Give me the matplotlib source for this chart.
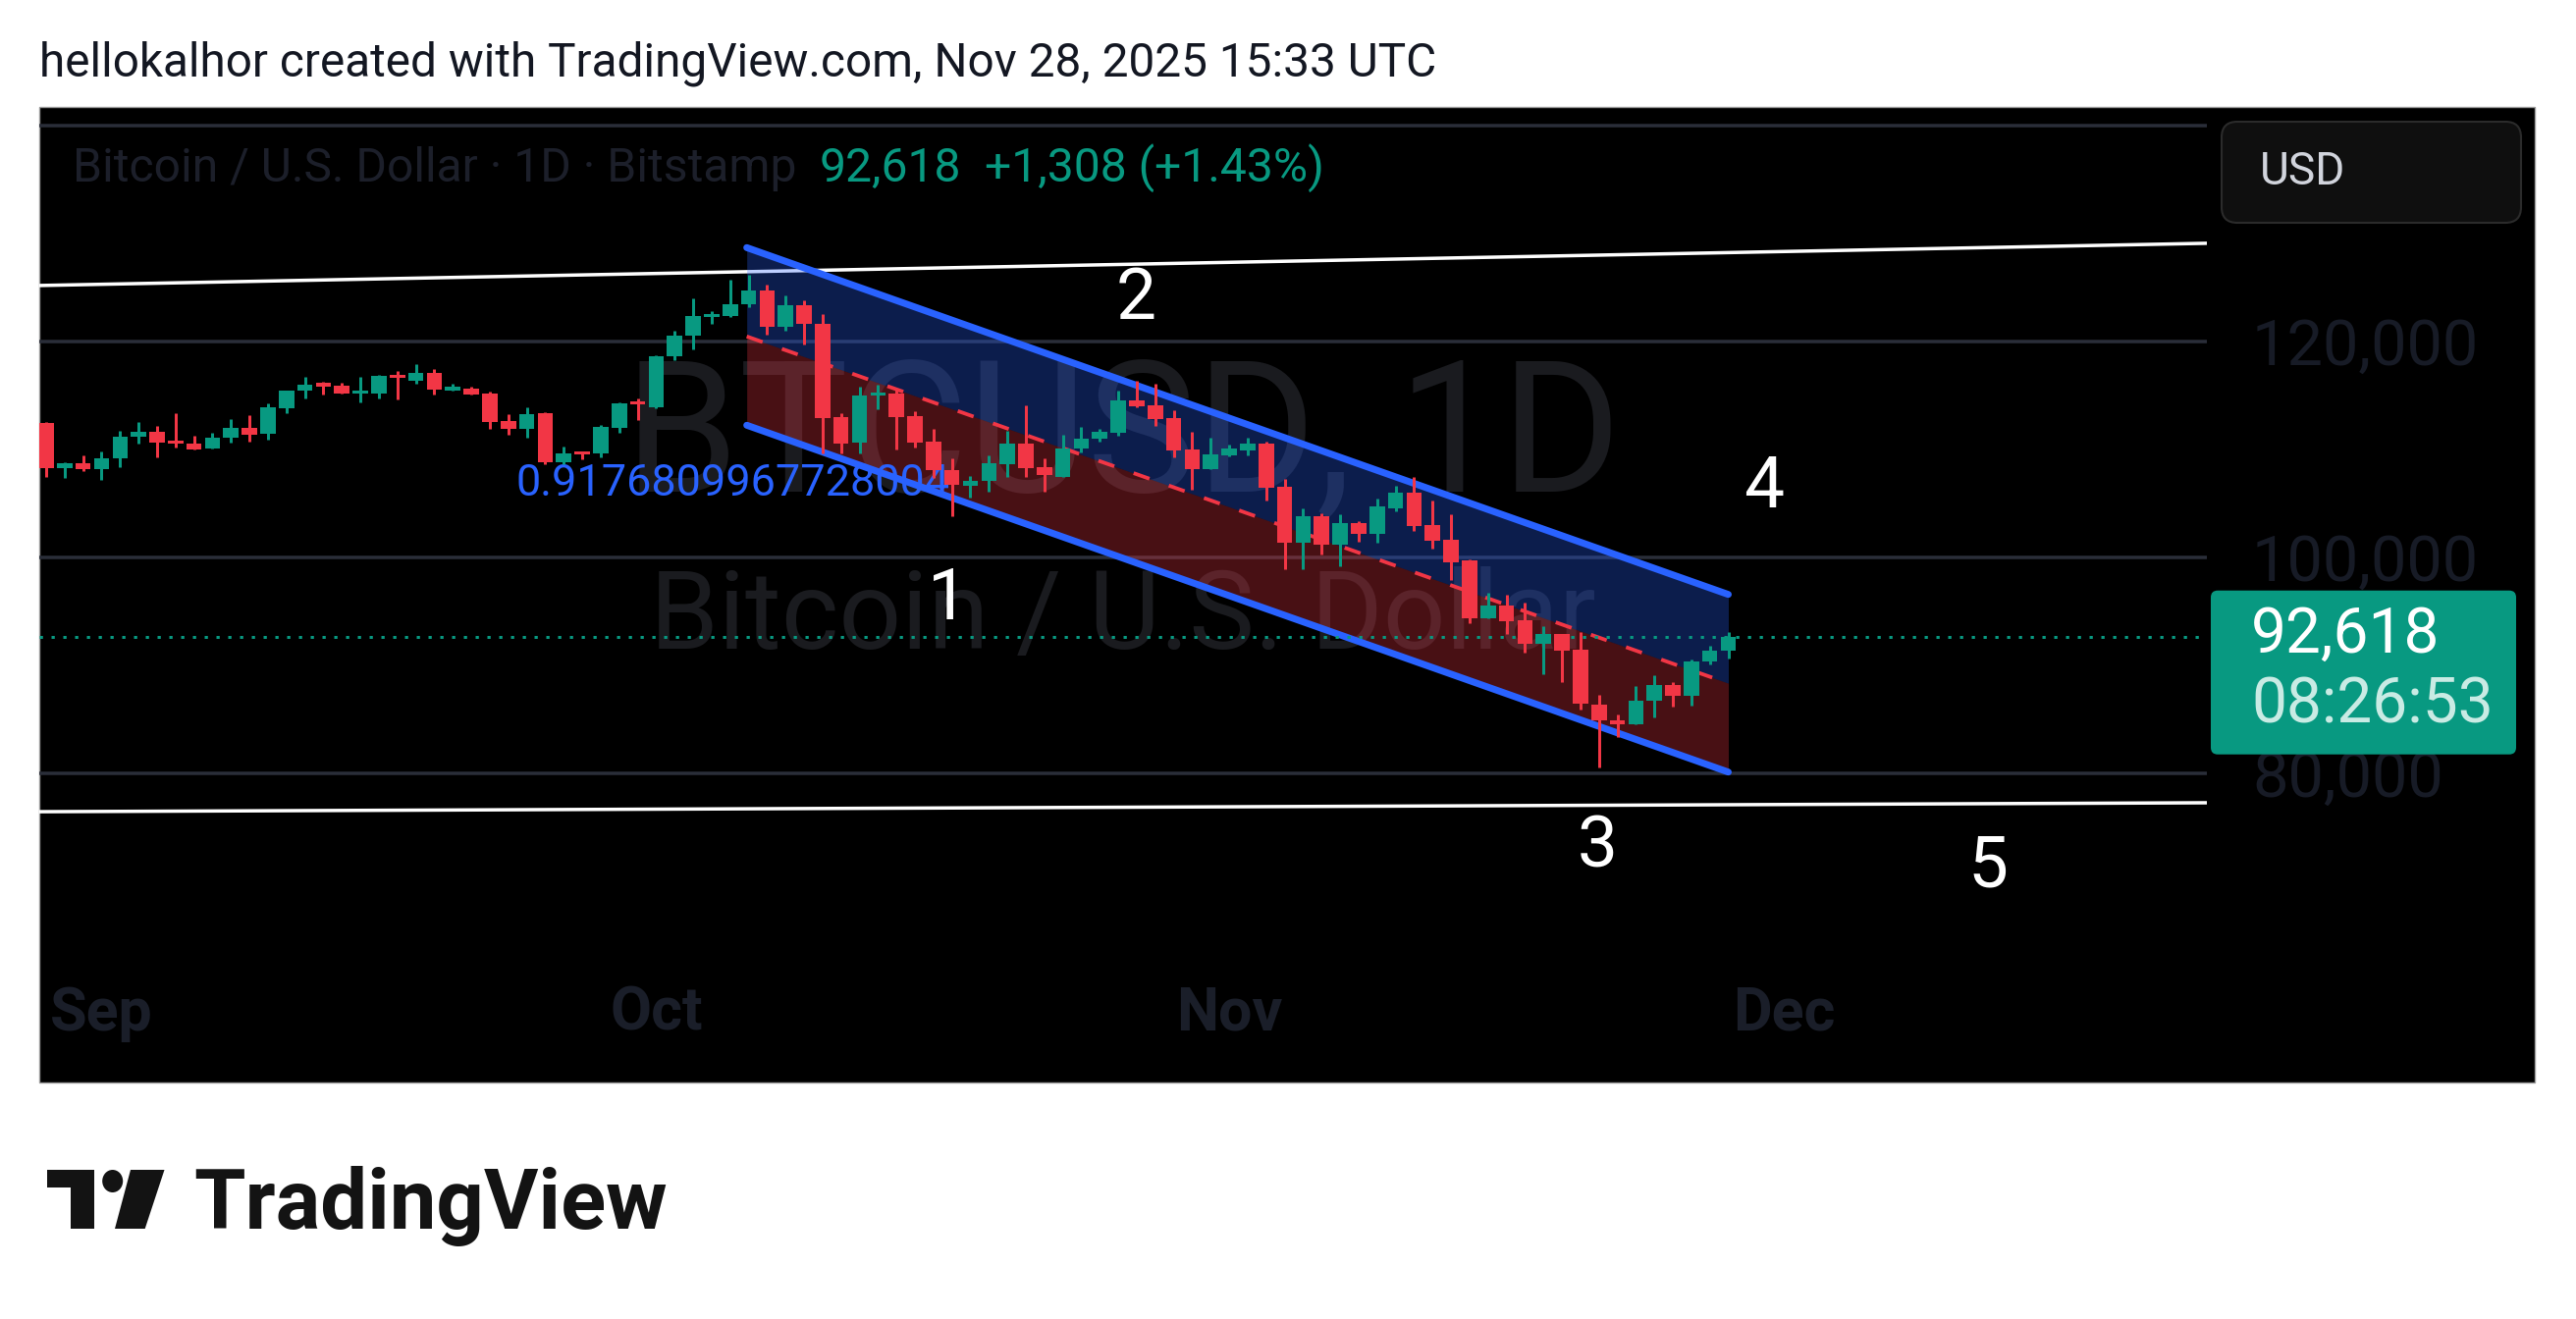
import matplotlib
matplotlib.use("Agg")
import matplotlib.pyplot as plt
from matplotlib.patches import Rectangle, FancyBboxPatch, Polygon, Ellipse
import numpy as np
import pandas as pd

plt.rcParams['font.family'] = ['Roboto', 'DejaVu Sans']

# ---- data (BTCUSD daily, Bitstamp) ----
dates = pd.date_range('2025-08-29', '2025-11-28', freq='D')
opens = [112440, 108190, 108700, 108100, 109100, 111130, 111620, 110800, 110490, 110010,
         111010, 111980, 111380, 113810, 115380, 116170, 115900, 115110, 115170, 116900,
         116300, 117090, 115450, 115630, 115170, 112620, 111830, 113290, 108790, 109770,
         109550, 111980, 114380, 113900, 118570, 120490, 122220, 122310, 123370, 124650,
         121310, 123280, 121610, 112950, 110620, 114960, 115170, 113040, 110680, 108030,
         106600, 107090, 108610, 110520, 108310, 107430, 110010, 110920, 111490, 114460,
         114070, 112860, 109910, 108160, 109400, 109820, 110520, 106490, 101330, 103760,
         101120, 103180, 102180, 104520, 105970, 103000, 101570, 99660, 94290, 95510,
         94140, 91930, 92840, 91410, 86350, 84890, 84530, 86710, 88170, 87170,
         90350, 91310]
highs = [112500, 108790, 109400, 109800, 111680, 112530, 112130, 113350, 111220, 111530,
         112770, 113170, 114260, 115450, 116720, 116260, 116140, 116720, 116900, 117270,
         117900, 117450, 116080, 115810, 115350, 113260, 113895, 113440, 110250, 109770,
         112190, 114350, 114650, 118700, 121000, 123920, 122760, 125650, 126170, 125190,
         124190, 123740, 122520, 113350, 115780, 115990, 115480, 113500, 111890, 109160,
         107490, 109370, 111670, 114010, 109100, 111280, 112040, 111830, 115370, 116280,
         116040, 113550, 111580, 111040, 110370, 111040, 110670, 107250, 104460, 104090,
         103940, 103300, 105430, 106580, 107400, 105210, 103940, 99750, 96660, 96480,
         95810, 93630, 92840, 93020, 87260, 85440, 88020, 89080, 88380, 90500,
         91810, 93020]
lows = [107370, 107280, 107970, 107180, 108340, 110460, 109250, 110160, 109920, 110010,
        110560, 110710, 110830, 113350, 114720, 115080, 115110, 114350, 114720, 114620,
        116080, 115080, 115380, 115080, 111890, 111350, 111010, 108550, 108550, 109040,
        109190, 111530, 112650, 113800, 118270, 119270, 121550, 122220, 123130, 120580,
        121000, 119670, 109610, 109610, 109610, 113650, 109920, 110100, 107340, 103800,
        105520, 106060, 107430, 107430, 106060, 107430, 109700, 110670, 111220, 113860,
        112130, 109220, 106210, 108160, 109310, 109400, 105210, 98840, 98840, 100210,
        99150, 101420, 101330, 104240, 102420, 100760, 97870, 93900, 94290, 92870,
        91110, 89140, 88380, 85860, 80490, 83320, 84530, 85140, 86110, 86260,
        90050, 90590]
closes = [108190, 108700, 108100, 109160, 111160, 111620, 110560, 110490, 109980, 111040,
          111980, 111350, 113900, 115450, 115990, 115810, 115170, 115450, 116750, 116570,
          117090, 115540, 115810, 115080, 112530, 111830, 113200, 108730, 109550, 109490,
          112070, 114260, 114110, 118630, 120490, 122310, 122520, 123430, 124650, 121310,
          123280, 121550, 112830, 110530, 114960, 115260, 112950, 110620, 108030, 106670,
          107090, 108700, 110520, 108250, 107550, 110010, 110920, 111580, 114460, 113950,
          112800, 109820, 108160, 109520, 110010, 110520, 106430, 101330, 103760, 101120,
          103180, 102180, 104700, 105970, 102880, 101510, 99510, 94290, 95510, 94050,
          91930, 92840, 91320, 86410, 84830, 84530, 86710, 88170, 87170, 90350,
          91310, 92618]

last_price = 92618
change = 1308
change_pct = 1.43
countdown = '08:26:53'

month_ticks = pd.to_datetime(['2025-09-01', '2025-10-01', '2025-11-01', '2025-12-01'])
month_labels = ['Sep', 'Oct', 'Nov', 'Dec']
grid_prices = [80000, 100000, 120000, 140000]
label_prices = [80000, 100000, 120000]

# drawings (x in days after Aug 29)
white_days = [-0.5, 117.0]
white_upper = [125140, 129060]
white_lower = [76400, 77230]
chan_days = [37.9, 91.0]
chan_upper = [128655, 96527]
chan_mid = [120428, 88300]
chan_lower = [112200, 80073]
ratio_text = '0.9176809967728004'
ratio_pos = (25.42, 105682)
wave_labels = ['1', '2', '3', '4', '5']
wave_days = [48.75, 58.95, 83.9, 92.94, 105.05]
wave_prices = [95955, 123800, 73045, 106409, 71227]

GREEN = '#089981'
RED = '#f23645'
BLUE = '#2962ff'
W, H = 2624, 1344
PT = 0.72  # px -> pt at dpi 100

fig = plt.figure(figsize=(W / 100, H / 100), dpi=100, facecolor='white')

# background layer in pixel coords
bg = fig.add_axes([0, 0, 1, 1], zorder=0)
bg.set_xlim(0, W)
bg.set_ylim(H, 0)
bg.axis('off')
bg.add_patch(Rectangle((40, 109), 2542, 994, facecolor='black', edgecolor='#9a9a9a', lw=1))
bg.text(40, 77, 'hellokalhor created with TradingView.com, Nov 28, 2025 15:33 UTC',
        fontsize=47.8 * PT, color='#131722', va='baseline', ha='left')
bg.text(1144, 450, 'BTCUSD, 1D', fontsize=187 * PT, color='#1a1b1f', ha='center', va='center')
bg.text(1144, 631, 'Bitcoin / U.S. Dollar', fontsize=112 * PT, color='#1a1b1f', ha='center', va='center')
bg.text(74, 185, 'Bitcoin / U.S. Dollar · 1D · Bitstamp', fontsize=48 * PT, color='#1c1f2a', va='baseline')
bg.text(835, 185, f'{last_price:,}', fontsize=48 * PT, color=GREEN, va='baseline')
bg.text(1003, 185, f'+{change:,} (+{change_pct:.2f}%)', fontsize=48 * PT, color=GREEN, va='baseline')

# TradingView logo
bg.add_patch(Rectangle((48, 1192), 48, 18, color='#131313', lw=0))
bg.add_patch(Rectangle((72, 1192), 24, 60, color='#131313', lw=0))
bg.add_patch(Ellipse((114.7, 1203.5), 21, 23, color='#131313', lw=0))
bg.add_patch(Polygon([(133, 1192), (167.5, 1192), (147.7, 1252), (117, 1252)], color='#131313', lw=0))
bg.text(197, 1252, 'TradingView', fontsize=85 * PT, fontweight='bold', color='#131313', va='baseline')

# main chart pane
ax = fig.add_axes([40 / W, 1 - 990 / H, 2208 / W, 881 / H], zorder=1)
ax.set_facecolor('none')
x = np.array((dates - dates[0]).days)
ax.set_xlim(-0.372, 116.89)
ax.set_ylim(61591, 141682)
for s in ax.spines.values():
    s.set_visible(False)

ax.hlines(grid_prices, -1, 120, colors='#2a2e39', lw=3.5 * PT, zorder=1)

ax.plot(white_days, white_upper, color='white', lw=3.5 * PT, zorder=2)
ax.plot(white_days, white_lower, color='white', lw=3.5 * PT, zorder=2)

ax.fill_between(chan_days, chan_mid, chan_upper, color=BLUE, alpha=0.3, lw=0, zorder=2)
ax.fill_between(chan_days, chan_lower, chan_mid, color=RED, alpha=0.3, lw=0, zorder=2)
ax.plot(chan_days, chan_mid, color=RED, lw=3.8 * PT, dashes=(4.5, 5.5), zorder=3)
ax.plot(chan_days, chan_upper, color=BLUE, lw=7 * PT, solid_capstyle='round', zorder=3)
ax.plot(chan_days, chan_lower, color=BLUE, lw=7 * PT, solid_capstyle='round', zorder=3)

ax.text(ratio_pos[0], ratio_pos[1], ratio_text, color=BLUE, fontsize=45 * PT,
        ha='left', va='baseline', zorder=3)

ax.axhline(last_price, color=GREEN, lw=3 * PT, dashes=(1.1, 2.9), zorder=3)

o = np.array(opens)
c = np.array(closes)
cols = [GREEN if cc >= oo else RED for oo, cc in zip(o, c)]
ax.vlines(x, lows, highs, colors=cols, lw=3 * PT, zorder=4)
ax.bar(x, np.maximum(np.abs(c - o), 120), bottom=np.minimum(o, c), width=0.83,
       color=cols, lw=0, zorder=5)

for t, d, p in zip(wave_labels, wave_days, wave_prices):
    ax.text(d, p, t, color='white', fontsize=73 * PT, ha='center', va='center', zorder=7)

# axes labels
ax.yaxis.tick_right()
ax.set_yticks(label_prices)
ax.set_yticklabels([f'{p:,}' for p in label_prices])
ax.tick_params(axis='y', length=0, pad=46 * PT, labelsize=65 * PT, labelcolor='#171b26')
ax.set_xticks((month_ticks - dates[0]).days)
ax.set_xticklabels(month_labels, fontweight='bold')
ax.tick_params(axis='x', length=0, pad=14 * PT, labelsize=61 * PT, labelcolor='#1a1e29')

# price scale overlays
fg = fig.add_axes([0, 0, 1, 1], zorder=3)
fg.set_xlim(0, W)
fg.set_ylim(H, 0)
fg.axis('off')
fg.patch.set_alpha(0)
fg.add_patch(FancyBboxPatch((2263, 124), 305, 103, boxstyle='round,pad=0,rounding_size=16',
                            facecolor='#0f0f0f', edgecolor='#2b2b2b', lw=1.5))
fg.text(2302, 175, 'USD', fontsize=46 * PT, color='#d1d4dc', va='center', ha='left')

y_last = H - ax.transData.transform((0, last_price))[1]
fg.add_patch(FancyBboxPatch((2252, y_last - 47), 311, 167, boxstyle='round,pad=0,rounding_size=7',
                            facecolor=GREEN, edgecolor='none'))
fg.text(2293, y_last - 2, f'{last_price:,}', fontsize=64 * PT, color='white', va='center', ha='left')
fg.text(2293, y_last + 70, countdown, fontsize=64 * PT, color='#c9ebe4', va='center', ha='left')

fig.savefig('out.png', dpi=100, facecolor='white')
